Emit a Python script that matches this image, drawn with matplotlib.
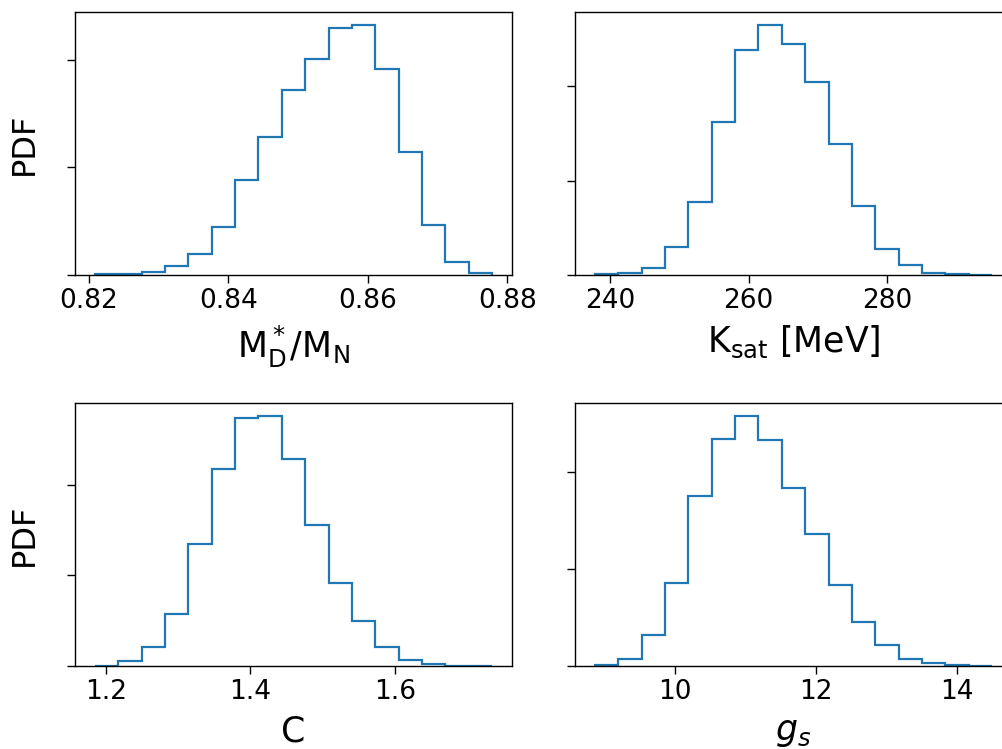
import numpy as np
import matplotlib
matplotlib.use("Agg")
import matplotlib.pyplot as plt

# Bin edges ranges (17 bins each) and density values
md_edges_range = (0.8209, 0.8778)
md_density = [0.12, 0.25, 0.49, 1.73, 3.9, 9.0, 17.6, 25.7, 34.4, 40.1,
              45.8, 46.5, 38.3, 22.8, 9.2, 2.4, 0.31]

ksat_edges_range = (237.85, 295.09)
ksat_density = [0.00014, 0.00035, 0.00148, 0.00599, 0.01551, 0.03236, 0.04773,
                0.05309, 0.04886, 0.04082, 0.02785, 0.01452, 0.00550, 0.00204,
                0.00049, 0.00014, 0.00007]

c_edges_range = (1.1843, 1.7351)
c_density = [0.007, 0.117, 0.426, 1.145, 2.70, 4.35, 5.47, 5.53, 4.58, 3.11,
             1.835, 1.00, 0.411, 0.132, 0.037, 0.007, 0.007]

gs_edges_range = (8.855, 14.506)
gs_density = [0.0014, 0.0151, 0.0644, 0.170, 0.350, 0.467, 0.516, 0.466, 0.367,
              0.271, 0.166, 0.0898, 0.0425, 0.0137, 0.0055, 0.0027, 0.0007]

xlabels = [r"$\mathrm{M_D^*/M_N}$", r"K$_{\mathrm{sat}}$ [MeV]", "C", r"$g_s$"]
xticks = [[0.82, 0.84, 0.86, 0.88], [240, 260, 280], [1.2, 1.4, 1.6], [10, 12, 14]]
yticks = [[0, 20, 40], [0, 0.02, 0.04], [0, 2, 4], [0, 0.2, 0.4]]

fig = plt.figure(figsize=(10.03, 7.49), dpi=100)
W, H = 1003, 749
aw, ah = 437 / W, 263 / H
positions = [
    (75 / W, 1 - 275 / H),
    (575 / W, 1 - 275 / H),
    (75 / W, 1 - 666 / H),
    (575 / W, 1 - 666 / H),
]
datasets = [
    (md_edges_range, md_density),
    (ksat_edges_range, ksat_density),
    (c_edges_range, c_density),
    (gs_edges_range, gs_density),
]

for i, ((lo, hi), dens) in enumerate(datasets):
    ax = fig.add_axes([positions[i][0], positions[i][1], aw, ah])
    edges = np.linspace(lo, hi, len(dens) + 1)
    centers = 0.5 * (edges[:-1] + edges[1:])
    ax.hist(centers, bins=edges, weights=dens, histtype="step",
            color="#1f77b4", linewidth=1.6)
    ax.set_xticks(xticks[i])
    ax.set_yticks(yticks[i])
    ax.set_yticklabels([])
    ax.tick_params(axis="both", labelsize=19, length=6, width=1.0)
    ax.set_xlabel(xlabels[i], fontsize=25, labelpad=7)
    for s in ax.spines.values():
        s.set_linewidth(1.0)
    if i % 2 == 0:
        ax.set_ylabel("PDF", fontsize=23, labelpad=16)

fig.savefig("out.png", dpi=100)
